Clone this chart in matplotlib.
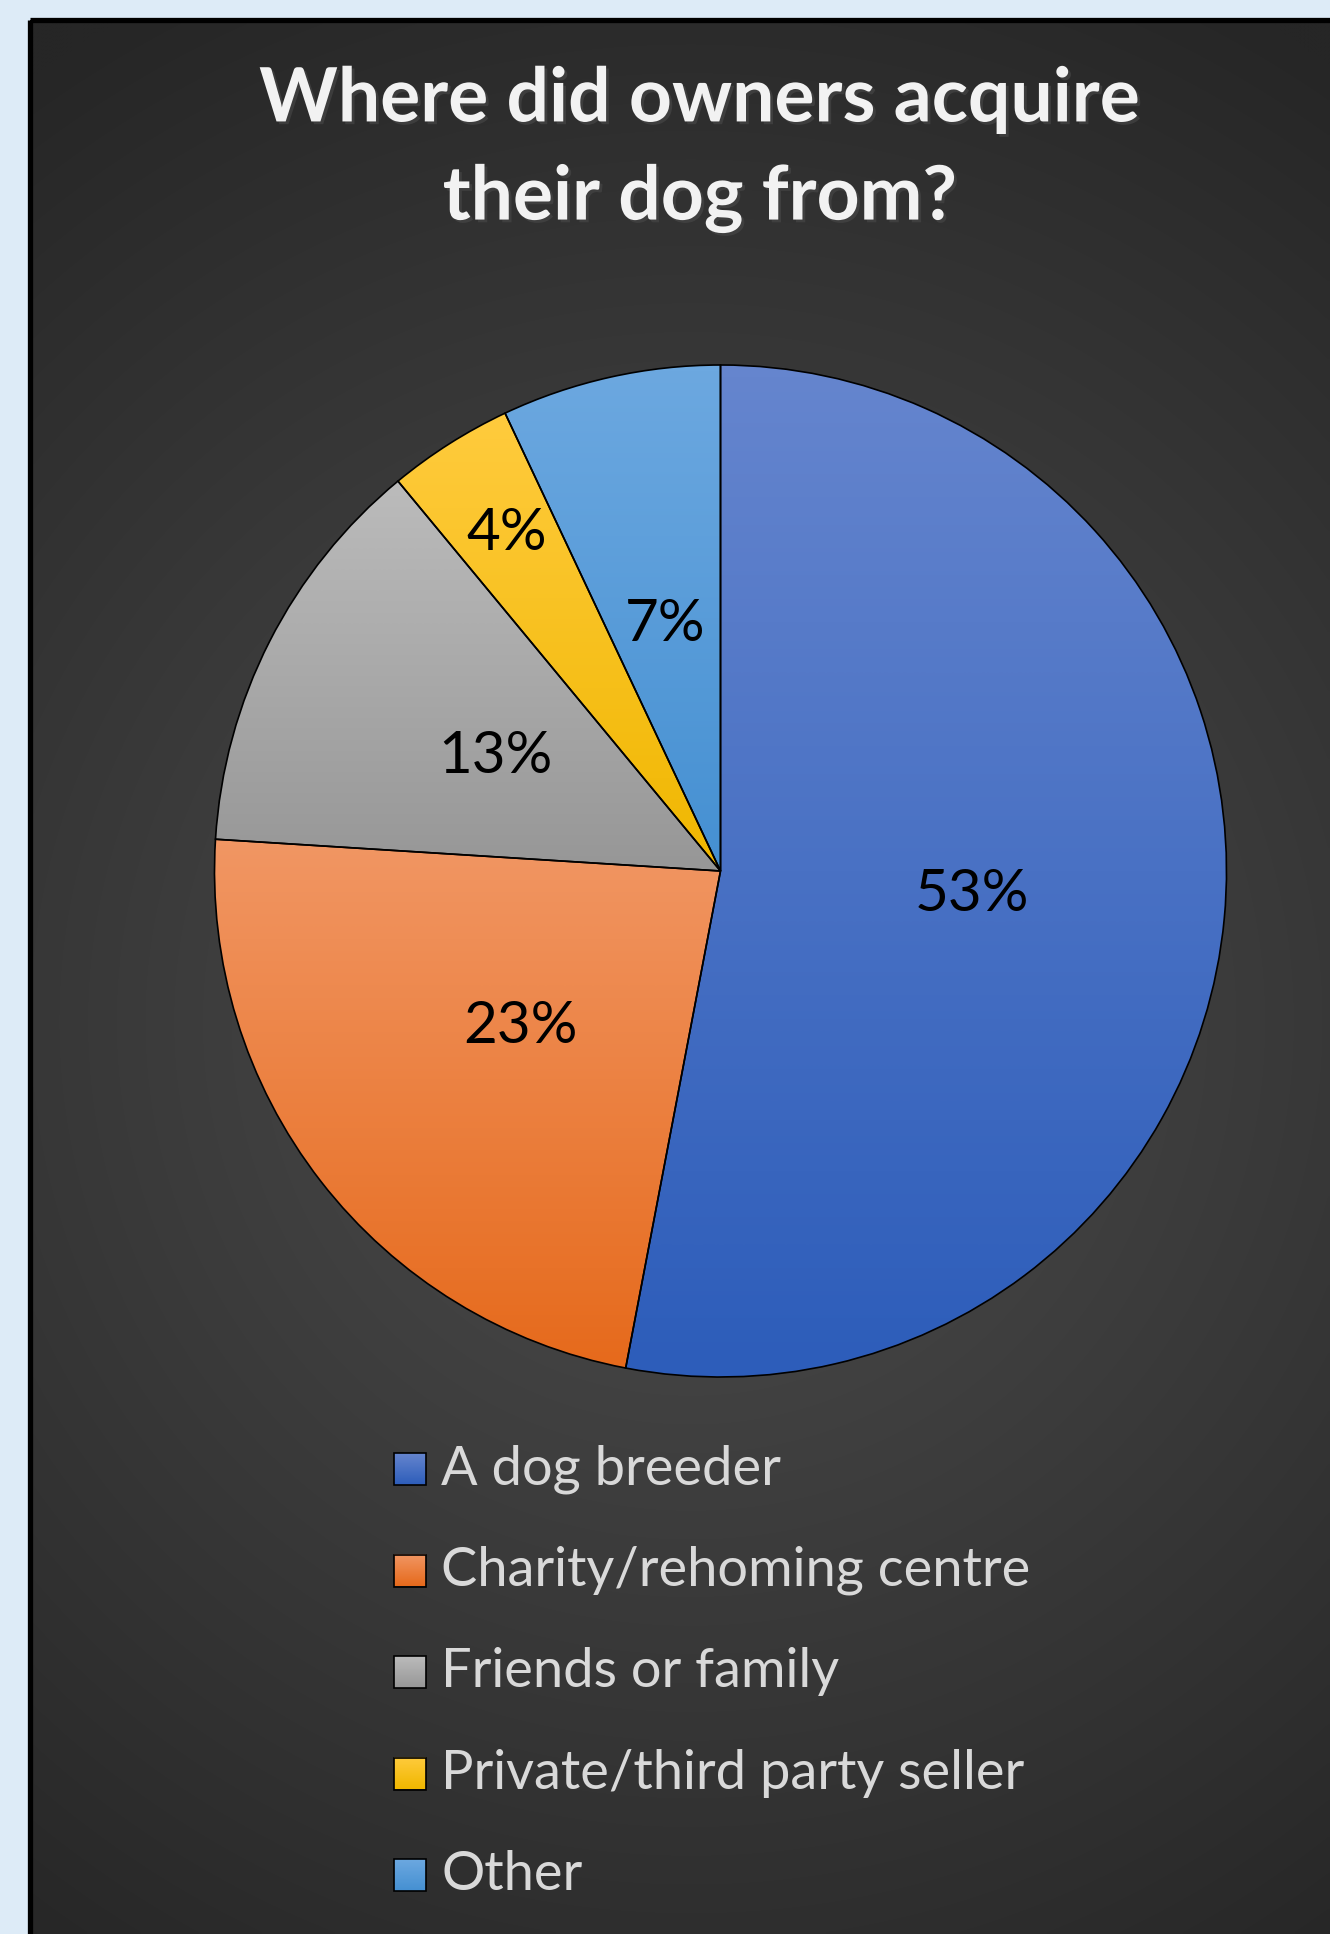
import matplotlib.pyplot as plt
import matplotlib.patheffects as pe
import numpy as np
from matplotlib.colors import to_rgb, LinearSegmentedColormap
from matplotlib.patches import Rectangle

# survey results: where owners got their dog
sources = ["A dog breeder", "Charity/rehoming centre", "Friends or family",
           "Private/third party seller", "Other"]
shares = [53, 23, 13, 4, 7]
# top / bottom colours of each slice's vertical gradient
tops = ["#6585CE", "#F19663", "#BBBBBB", "#FFCB3D", "#6CA8E0"]
bottoms = ["#2D5DBA", "#E66A1C", "#979797", "#F0B700", "#4590D2"]
# how far out each percentage sits (fraction of radius)
label_r = [0.5, 0.5, 0.5, 0.79, 0.5]

title = "Where did owners acquire\ntheir dog from?"

W, H = 1330, 1934
fig = plt.figure(figsize=(W / 100, H / 100), dpi=100)
fig.patch.set_facecolor("#DDEBF7")

# dark panel with a radial gradient
bg = fig.add_axes([0, 0, 1, 1])
bg.set_xlim(0, W)
bg.set_ylim(H, 0)
bg.axis("off")
px0, py0 = 32, 22
yy, xx = np.mgrid[py0:H:4, px0:W:4]
rr = np.clip(np.hypot(xx - 690, yy - 1020) / 1150, 0, 1)
c_in, c_out = np.array(to_rgb("#4E4E4E")), np.array(to_rgb("#262626"))
img = c_in[None, None, :] * (1 - rr[..., None]) + c_out[None, None, :] * rr[..., None]
bg.imshow(img, extent=[px0, W, H, py0], aspect="auto", interpolation="bilinear")
bg.add_patch(Rectangle((30, 20), W, H, fill=False, edgecolor="black", linewidth=3.8))

bg.text(700, 150, title, ha="center", va="center", fontsize=54, fontweight="bold",
        family="Lato", color="#F2F2F2", linespacing=1.52,
        path_effects=[pe.withSimplePatchShadow(offset=(2, -2), alpha=0.6)])

# legend entries, drawn by hand so the keys can carry the gradient too
grad = np.linspace(0, 1, 64)[:, None]
for i, (name, t, b) in enumerate(zip(sources, tops, bottoms)):
    y = 1469 + i * 101.5
    cm = LinearSegmentedColormap.from_list("k", [t, b])
    bg.imshow(grad, cmap=cm, extent=[394, 426, y + 16, y - 16], aspect="auto", zorder=3)
    bg.add_patch(Rectangle((394, y - 16), 32, 32, fill=False, edgecolor="black",
                           linewidth=1.2, zorder=4))
    bg.text(441, y, name, ha="left", va="center", fontsize=39, family="Lato",
            color="#D9D9D9")

# pie
cx, cy, R = 720.5, 871, 506
ax = fig.add_axes([(cx - R) / W, (H - cy - R) / H, 2 * R / W, 2 * R / H])
ax.axis("off")
wedges, _ = ax.pie(shares, startangle=90, counterclock=False, radius=1,
                   wedgeprops=dict(facecolor="none", edgecolor="black", linewidth=1.2))
for w, t, b, share, lr in zip(wedges, tops, bottoms, shares, label_r):
    ext = w.get_path().get_extents()
    cm = LinearSegmentedColormap.from_list("s", [t, b])
    im = ax.imshow(grad, cmap=cm, extent=[ext.x0, ext.x1, ext.y0, ext.y1],
                   aspect="auto", zorder=0, interpolation="bilinear")
    im.set_clip_path(w)
    mid = np.deg2rad((w.theta1 + w.theta2) / 2)
    ax.text(lr * np.cos(mid), lr * np.sin(mid), f"{share}%", ha="center", va="center",
            fontsize=42, family="Lato", color="black", zorder=5)
ax.set_xlim(-1, 1)
ax.set_ylim(-1, 1)
ax.set_aspect("equal")

fig.savefig("out.png", dpi=100, facecolor=fig.get_facecolor())
